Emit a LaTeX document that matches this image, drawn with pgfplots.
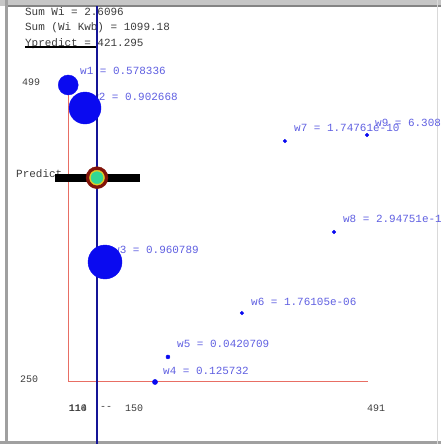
\documentclass[border=0pt]{standalone}
\usepackage{pgfplots}
\pgfplotsset{compat=1.18}
\usepackage{fontspec}
\setmainfont{Liberation Sans}
\newfontfamily\mono{Liberation Mono}
\definecolor{circblue}{RGB}{10,10,240}
\definecolor{lblblue}{RGB}{95,95,225}
\definecolor{navyline}{RGB}{20,20,150}
\definecolor{axred}{RGB}{232,110,100}
\definecolor{txtgray}{RGB}{60,60,60}
\definecolor{maroonc}{RGB}{130,20,10}
\definecolor{ringyel}{RGB}{225,205,40}
\definecolor{mint}{RGB}{50,215,150}
\definecolor{framegray}{RGB}{160,160,160}
\tikzset{
  mt/.style={font=\mono\fontsize{11}{13}\selectfont, inner sep=0pt, anchor=west},
  tk/.style={font=\mono\fontsize{10}{12}\selectfont, inner sep=0pt, anchor=west, txtgray},
}
\begin{document}
\begin{tikzpicture}
\begin{axis}[
  width=441bp, height=444bp, scale only axis,
  hide axis, clip=false,
  xmin=22.08, xmax=584.02, ymin=198.02, ymax=570.26,
]
% frame
\draw[framegray!60, line width=6bp] (rel axis cs:0,0.9932) -- (rel axis cs:1,0.9932);
\draw[framegray!130, line width=1.2bp] (rel axis cs:0.0147,0.9865) -- (rel axis cs:1,0.9865);
\draw[framegray, line width=3bp] (rel axis cs:0.0147,0) -- (rel axis cs:0.0147,1);
\draw[framegray, line width=3bp] (rel axis cs:0,0.0034) -- (rel axis cs:1,0.0034);
\draw[framegray!40, line width=1bp] (rel axis cs:0.991,0) -- (rel axis cs:0.991,1);
% red axes
\addplot[axred, line width=1bp] coordinates {(110,499) (110,250) (491,250)};
% axis labels
\node[tk] at (axis cs:50.1,501.5) {499};
\node[tk] at (axis cs:47.6,252.5) {250};
\node[tk] at (axis cs:109.5,228.2) {110};
\node[tk] at (axis cs:109.5,228.2) {114};
\node[tk] at (axis cs:149.5,228.2) {--};
\node[tk] at (axis cs:181.4,228.2) {150};
\node[tk] at (axis cs:489.7,228.2) {491};
% top texts
\node[mt, txtgray] at (axis cs:53.9,560.2) {Sum Wi = 2.6096};
\node[mt, txtgray] at (axis cs:53.9,546.8) {Sum (Wi Kwb) = 1099.18};
\node[mt, txtgray] at (axis cs:53.9,533.4) {Ypredict = 421.295};
\draw[black, line width=1.2bp] (axis cs:53.9,530.9) -- (axis cs:147,530.9);
\node[mt, txtgray] at (axis cs:42.5,424.4) {Predict};
% weight labels
\node[mt, lblblue] at (axis cs:124.0,510.7) {w1 = 0.578336};
\node[mt, lblblue] at (axis cs:139.3,488.9) {w2 = 0.902668};
\node[mt, lblblue] at (axis cs:166.1,360.7) {w3 = 0.960789};
\node[mt, lblblue] at (axis cs:229.8,259.2) {w4 = 0.125732};
\node[mt, lblblue] at (axis cs:247.6,281.9) {w5 = 0.0420709};
\node[mt, lblblue] at (axis cs:341.9,317.1) {w6 = 1.76105e-06};
\node[mt, lblblue] at (axis cs:396.7,462.9) {w7 = 1.74761e-10};
\node[mt, lblblue] at (axis cs:459.1,386.7) {w8 = 2.94751e-1};
\node[mt, lblblue] at (axis cs:499.9,467.1) {w9 = 6.308};
% weighted points
\addplot[only marks, mark=*, mark size=10bp, circblue, mark options={draw=circblue}] coordinates {(109,499)};
\addplot[only marks, mark=*, mark size=16bp, circblue, mark options={draw=circblue}] coordinates {(130.4,479.7)};
\addplot[only marks, mark=*, mark size=17bp, circblue, mark options={draw=circblue}] coordinates {(155.9,350.6)};
\addplot[only marks, mark=*, mark size=2.6bp, circblue] coordinates {(219.6,250)};
\addplot[only marks, mark=*, mark size=2bp, circblue] coordinates {(236.1,271.0)};
\addplot[only marks, mark=*, mark size=1.8bp, circblue] coordinates {(330.4,307.8) (385.2,452.0) (447.7,375.8) (489.7,457.1)};
% prediction line
\addplot[navyline, line width=2.6bp] coordinates {(145.7,198.02) (145.7,565.5)};
\addplot[black, line width=8bp] coordinates {(92.2,421.295) (200.5,421.295)};
\addplot[only marks, mark=*, mark size=11bp, maroonc, mark options={draw=maroonc}] coordinates {(145.7,421.295)};
\addplot[only marks, mark=*, mark size=7.5bp, ringyel, mark options={draw=ringyel}] coordinates {(145.7,421.295)};
\addplot[only marks, mark=*, mark size=6bp, mint, mark options={draw=mint}] coordinates {(145.7,421.295)};
\end{axis}
\pgfresetboundingbox
\path[use as bounding box] (current axis.south west) rectangle (current axis.north east);
\end{tikzpicture}
\end{document}
